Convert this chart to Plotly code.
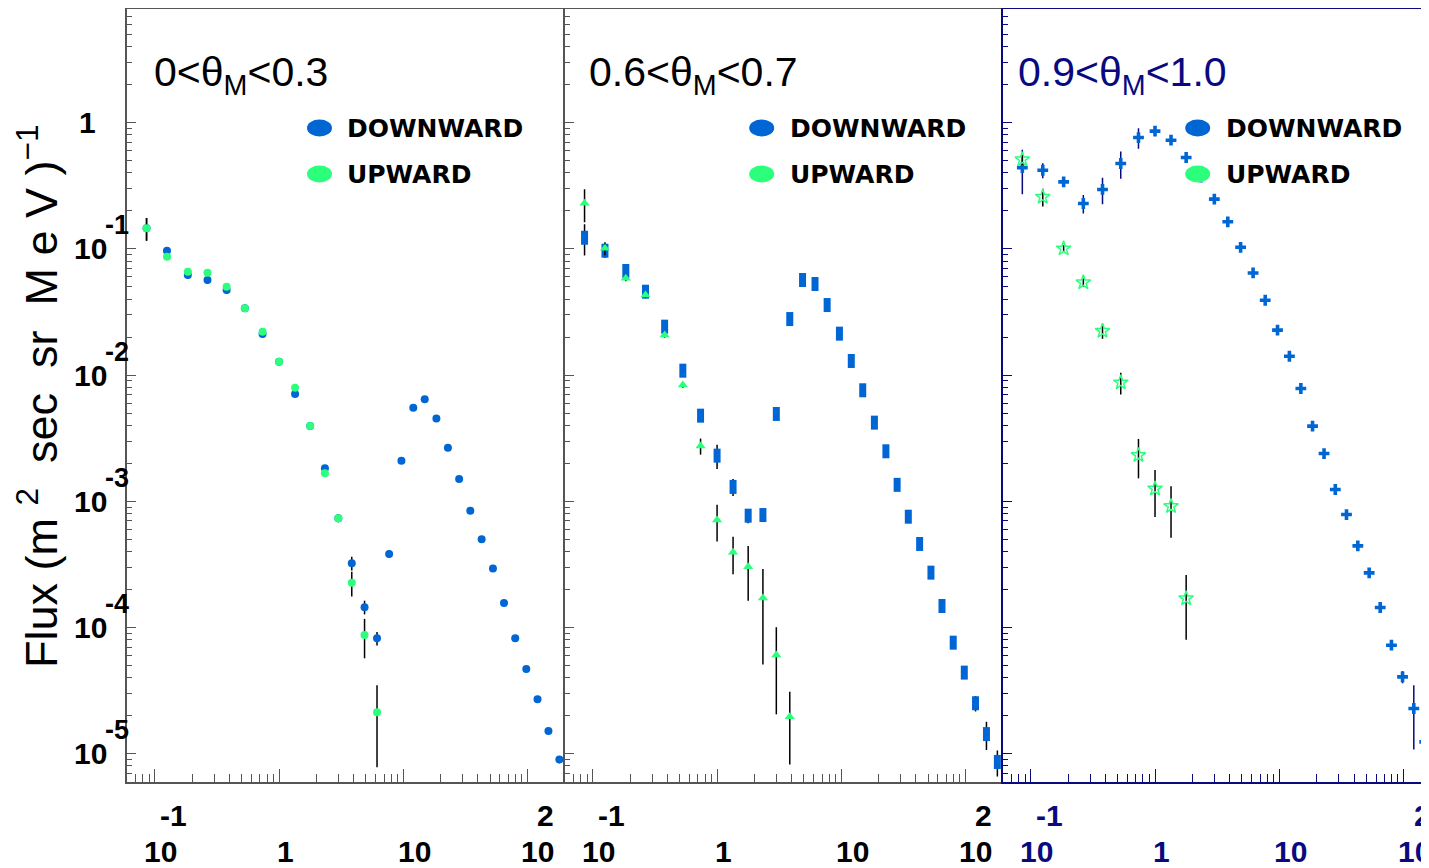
import plotly.graph_objects as go

# page body has an 8px margin; the figure fills the rest of the 1429x868 window
OFF = 8
W, H = 1429 - OFF, 868 - OFF

# ---------------- data ----------------
energy_bins = [0.0856, 0.125, 0.184, 0.265, 0.378, 0.53, 0.736, 1.0, 1.345, 1.78,
               2.34, 3.0, 3.85, 4.88, 6.15, 7.7, 9.67, 12.05, 14.9, 18.5,
               22.9, 28.2, 34.7, 42.8, 52.8, 64.8, 79.8, 98.0, 120.7, 147.8, 181.0]

p1_down = [0.146, 0.0968, 0.0621, 0.0567, 0.0472, 0.0338, 0.0212, 0.01277, 0.00708, 0.00395,
           0.00183, 0.000733, 0.000323, 0.000145, 8.2e-5, 0.000382, 0.0021, 0.00552, 0.00643, 0.00452,
           0.00266, 0.0015, 0.000843, 0.0005, 0.000294, 0.000156, 8.2e-5, 4.69e-5, 2.7e-5, 1.51e-5, 9.0e-6]
p1_down_err = [0.03, 0.006, 0.004, 0.004, 0.003, 0.002, 0.0012, 0.0006, 0.0003, 0.00015,
               8e-5, 4e-5, 4e-5, 1.8e-5, 1.0e-5, 2.5e-5, 8e-5, 0.00015, 0.00015, 0.0001,
               6e-5, 3e-5, 1.7e-5, 1e-5, 6e-6, 3.5e-6, 2e-6, 1.3e-6, 1e-6, 8e-7, 6e-7]
p1_up = [0.146, 0.0867, 0.066, 0.0648, 0.0502, 0.0338, 0.0221, 0.01277, 0.00795, 0.00395,
         0.00167, 0.000733, 0.000226, 8.7e-5, 2.13e-5]
p1_up_err = [0.03, 0.005, 0.004, 0.004, 0.003, 0.002, 0.0012, 0.0006, 0.0004, 0.00015,
             0.0001, 5e-5, 5e-5, 3e-5, 1.35e-5]

p2_down = [0.1227, 0.0968, 0.0668, 0.0458, 0.0242, 0.01084, 0.00477, 0.0023, 0.0013, 0.000769,
           0.000778, 0.00492, 0.0278, 0.0567, 0.0527, 0.0359, 0.0213, 0.01294, 0.00758, 0.0042,
           0.00249, 0.00135, 0.000755, 0.000459, 0.000272, 0.000148, 7.58e-5, 4.39e-5, 2.51e-5, 1.43e-5, 8.6e-6]
p2_down_err = [0.034, 0.012, 0.004, 0.003, 0.0012, 0.0005, 0.0005, 0.0005, 0.0002, 1e-4,
               7e-5, 4e-4, 0.0015, 0.002, 0.002, 0.0012, 0.0006, 0.0004, 0.0002, 0.0001,
               6e-5, 3e-5, 1.5e-5, 9e-6, 5e-6, 3e-6, 2e-6, 4e-6, 3.5e-6, 3.6e-6, 2e-6]
p2_up = [0.2298, 0.101, 0.0585, 0.0431, 0.0208, 0.00835, 0.00274, 0.000711, 0.000394, 0.000303,
         0.000171, 6.05e-5, 1.96e-5]
p2_up_err = [0.067, 0.012, 0.003, 0.002, 0.001, 0.0004, 0.0004, 0.00023, 0.00013, 0.00014,
             0.00012, 4e-5, 1.14e-5]

p3_down = [0.441, 0.42, 0.34, 0.229, 0.296, 0.475, 0.763, 0.857, 0.727, 0.53,
           0.37, 0.248, 0.164, 0.103, 0.0645, 0.0392, 0.0227, 0.0141, 0.00783, 0.00394,
           0.00239, 0.00124, 0.000785, 0.000443, 0.000271, 0.000144, 7.24e-5, 4.06e-5, 2.28e-5, 1.24e-5]
p3_down_err = [0.17, 0.057, 0.03, 0.038, 0.07, 0.115, 0.14, 0.04, 0.04, 0.03,
               0.02, 0.012, 0.008, 0.005, 0.003, 0.002, 0.001, 0.0006, 0.0003, 0.00015,
               0.0001, 5e-5, 3e-5, 1.5e-5, 9e-6, 5e-6, 3e-6, 4.5e-6, 1.2e-5, 8.8e-6]
p3_up = [0.511, 0.258, 0.1007, 0.0542, 0.0224, 0.00873, 0.00232, 0.00126, 0.000914, 0.00017]
p3_up_err = [0.05, 0.041, 0.006, 0.004, 0.003, 0.0017, 0.0008, 0.00051, 0.0004, 9e-5]

panel_titles = ["0<θ<sub>M</sub><0.3", "0.6<θ<sub>M</sub><0.7", "0.9<θ<sub>M</sub><1.0"]
legend_labels = ["DOWNWARD", "UPWARD"]
y_exponents = [-1, -2, -3, -4, -5]
NB = "\u00a0"
y_title = f"Flux{NB}(m{NB}<sup>2</sup>{NB}{NB}sec{NB}{NB}sr{NB}{NB}M{NB}e{NB}V{NB})<sup>−1</sup>"

# ---------------- style ----------------
BLUE = "#0066d4"
GREEN = "#2bff7c"
NAVY = "#0a0a80"
GRAY = "#555555"
FONT = "Liberation Sans, Arial, sans-serif"


def px(xp):
    """reference-picture x pixel -> paper fraction"""
    return (xp - OFF) / W


def py(yp):
    """reference-picture y pixel -> paper fraction"""
    return 1 - (yp - OFF) / H


YR = [-5.222, 0.905]
XR12 = [-1.225, 2.303]
XR3 = [-1.223, 2.204]
panel_px = [(127, 565), (565, 1003), (1003, 1429)]
ydom = [py(781.7), py(8.5)]

fig = go.Figure()


def err(arr, color):
    return dict(type="data", array=arr, visible=True, color=color, thickness=1.5, width=0)


# panel 1: ellipses
fig.add_trace(go.Scatter(x=energy_bins[:len(p1_down)], y=p1_down, mode="markers",
                         marker=dict(symbol="circle", size=8, color=BLUE),
                         error_y=err(p1_down_err, "black"), xaxis="x", yaxis="y", showlegend=False))
fig.add_trace(go.Scatter(x=energy_bins[:len(p1_up)], y=p1_up, mode="markers",
                         marker=dict(symbol="circle", size=8, color=GREEN),
                         error_y=err(p1_up_err, "black"), xaxis="x", yaxis="y", showlegend=False))
# panel 2: tall rectangles + triangles
fig.add_trace(go.Scatter(x=energy_bins[:len(p2_down)], y=p2_down, mode="markers",
                         marker=dict(symbol="line-ns", size=10, color=BLUE,
                                     line=dict(width=7, color=BLUE)),
                         error_y=err(p2_down_err, "black"), xaxis="x2", yaxis="y2", showlegend=False))
fig.add_trace(go.Scatter(x=energy_bins[:len(p2_up)], y=p2_up, mode="markers",
                         marker=dict(symbol="triangle-up", size=9, color=GREEN),
                         error_y=err(p2_up_err, "black"), xaxis="x2", yaxis="y2", showlegend=False))
# panel 3: crosses + stars
fig.add_trace(go.Scatter(x=energy_bins[:len(p3_down)], y=p3_down, mode="markers",
                         marker=dict(symbol="cross", size=9, color=BLUE),
                         error_y=err(p3_down_err, NAVY), xaxis="x3", yaxis="y3", showlegend=False))
fig.add_trace(go.Scatter(x=energy_bins[:len(p3_up)], y=p3_up, mode="markers",
                         marker=dict(symbol="star-open", size=11, color=GREEN, line=dict(width=1.5, color=GREEN)),
                         error_y=err(p3_up_err, "black"), xaxis="x3", yaxis="y3", showlegend=False))


def xaxis(i, color, rng):
    l, r = panel_px[i]
    return dict(type="log", range=rng, domain=[px(l), min(1.0, px(r))], anchor="y" if i == 0 else f"y{i+1}",
                showline=True, linecolor=color, linewidth=1.5, mirror=True,
                ticks="inside", ticklen=13, tickcolor=color, tickwidth=1.2, dtick=1,
                minor=dict(ticks="inside", ticklen=8, tickcolor=color, tickwidth=1.2, dtick="D1", showgrid=False),
                showticklabels=False, showgrid=False, zeroline=False)


def yaxis(i, color):
    return dict(type="log", range=YR, domain=ydom, anchor="x" if i == 0 else f"x{i+1}",
                showline=True, linecolor=color, linewidth=1.5, mirror=False,
                ticks="inside", ticklen=9, tickcolor=color, tickwidth=1.2, dtick=1,
                minor=dict(ticks="inside", ticklen=5, tickcolor=color, tickwidth=1.2, dtick="D1", showgrid=False),
                showticklabels=False, showgrid=False, zeroline=False)


annotations = []
shapes = []

# x tick label annotations (ROOT-style split exponent)
label_colors = ["black", "black", NAVY]
xrefs = ["x", "x2", "x3"]
for i in range(3):
    c = label_colors[i]
    xr = xrefs[i]
    items = [(-1, "10", 5.3, 851.7), (-1, "-1", 18.5, 815), (0, "1", 6.8, 851.7),
             (1, "10", 11, 851.7), (2, "10", 10.6, 851.7), (2, "2", 18.6, 815)]
    for lg, txt, dx, yy in items:
        annotations.append(dict(x=lg, xref=xr, y=py(yy), yref="paper", text=f"<b>{txt}</b>",
                                showarrow=False, xanchor="center", yanchor="middle", xshift=dx,
                                font=dict(family=FONT, size=30, color=c)))

# y tick labels, panel 1
annotations.append(dict(x=px(87), xref="paper", y=0, yref="y", text="<b>1</b>", showarrow=False,
                        xanchor="center", yanchor="middle", font=dict(family=FONT, size=30, color="black")))
for e in y_exponents:
    annotations.append(dict(x=px(90), xref="paper", y=e, yref="y", text="<b>10</b>", showarrow=False,
                            xanchor="center", yanchor="middle", font=dict(family=FONT, size=30, color="black")))
    annotations.append(dict(x=px(103), xref="paper", y=e, yref="y", yshift=23.5, text=f"<b>{e}</b>",
                            showarrow=False, xanchor="left", yanchor="middle",
                            font=dict(family=FONT, size=27, color="black")))

# y title
annotations.append(dict(x=px(38), xref="paper", y=py(396), yref="paper", text=y_title, textangle=-90,
                        showarrow=False, xanchor="center", yanchor="middle",
                        font=dict(family=FONT, size=45, color="black")))

# panel titles and legends
title_left = [152, 587, 1016]
leg_marker_x = [319.5, 761.7, 1197.7]
leg_text_x = [345, 788, 1224]
title_colors = ["black", "black", NAVY]
for i in range(3):
    annotations.append(dict(x=px(title_left[i]), xref="paper", y=py(75), yref="paper", text=panel_titles[i],
                            showarrow=False, xanchor="left", yanchor="middle",
                            font=dict(family=FONT, size=41, color=title_colors[i])))
    for j, (lab, col, yy) in enumerate(zip(legend_labels, [BLUE, GREEN], [128, 174])):
        cx = leg_marker_x[i]
        shapes.append(dict(type="circle", xref="paper", yref="paper",
                           x0=px(cx - 12.5), x1=px(cx + 12.5), y0=py(yy + 8.5), y1=py(yy - 8.5),
                           fillcolor=col, line=dict(width=0), layer="above"))
        annotations.append(dict(x=px(leg_text_x[i]), xref="paper", y=py(yy), yref="paper",
                                text=f"<b>{lab}</b>", showarrow=False, xanchor="left", yanchor="middle",
                                font=dict(family="DejaVu Sans, sans-serif", size=25, color="black")))

fig.update_layout(
    width=W, height=H, margin=dict(l=0, r=0, t=0, b=0),
    paper_bgcolor="white", plot_bgcolor="white",
    xaxis=xaxis(0, GRAY, XR12), xaxis2=xaxis(1, GRAY, XR12), xaxis3=xaxis(2, NAVY, XR3),
    yaxis=yaxis(0, GRAY), yaxis2=yaxis(1, GRAY), yaxis3=yaxis(2, NAVY),
    annotations=annotations, shapes=shapes, showlegend=False,
)

fig.write_html("out.html")
